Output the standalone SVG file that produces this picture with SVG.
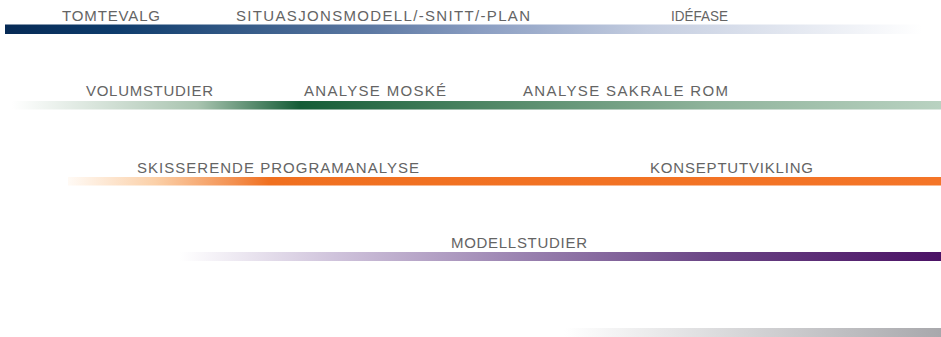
<svg xmlns="http://www.w3.org/2000/svg" width="941" height="337" viewBox="0 0 941 337">
<style>
.t{font-family:"Liberation Sans",Arial,sans-serif;font-size:15px;fill:#646464;}
</style>
<defs>
<linearGradient id="gBlue" x1="0" y1="0" x2="1" y2="0">
<stop offset="0" stop-color="#062a55"/>
<stop offset="0.12" stop-color="#0e3c6c"/>
<stop offset="0.4" stop-color="#5d79a3"/>
<stop offset="0.52" stop-color="#8b9ec2"/>
<stop offset="0.7" stop-color="#c4cde0"/>
<stop offset="1" stop-color="#ffffff"/>
</linearGradient>
<linearGradient id="gGreen" x1="0" y1="0" x2="1" y2="0">
<stop offset="0" stop-color="#ffffff"/>
<stop offset="0.2" stop-color="#a9c4b0"/>
<stop offset="0.31" stop-color="#145c36"/>
<stop offset="0.5" stop-color="#4c8462"/>
<stop offset="0.75" stop-color="#8fb39b"/>
<stop offset="1" stop-color="#b9d2c1"/>
</linearGradient>
<linearGradient id="gOrange" x1="0" y1="0" x2="1" y2="0">
<stop offset="0" stop-color="#fffaf5"/>
<stop offset="0.1" stop-color="#fbd0a8"/>
<stop offset="0.19" stop-color="#f39050"/>
<stop offset="0.23" stop-color="#f07020"/>
<stop offset="1" stop-color="#f47528"/>
</linearGradient>
<linearGradient id="gPurple" x1="0" y1="0" x2="1" y2="0">
<stop offset="0" stop-color="#ffffff"/>
<stop offset="0.2" stop-color="#d0c4dc"/>
<stop offset="0.45" stop-color="#9a82b0"/>
<stop offset="0.7" stop-color="#6a4585"/>
<stop offset="1" stop-color="#4b1265"/>
</linearGradient>
<linearGradient id="gGray" x1="0" y1="0" x2="1" y2="0">
<stop offset="0" stop-color="#ffffff"/>
<stop offset="1" stop-color="#a8a8ac"/>
</linearGradient>
</defs>
<rect width="941" height="337" fill="#ffffff"/>
<g id="bars">
<rect id="bar-blue" x="5" y="24.5" width="917" height="9.5" fill="url(#gBlue)"/>
<rect id="bar-green" x="12" y="101" width="929" height="8.5" fill="url(#gGreen)"/>
<rect id="bar-orange" x="68" y="177" width="873" height="8.5" fill="url(#gOrange)"/>
<rect id="bar-purple" x="180" y="252" width="761" height="9" fill="url(#gPurple)"/>
<rect id="bar-gray" x="564" y="328" width="377" height="9" fill="url(#gGray)"/>
</g>
<g id="labels">
<text id="tomtevalg" class="t" x="62" y="20.5" textLength="98" lengthAdjust="spacing">TOMTEVALG</text>
<text id="situasjon" class="t" x="236" y="20.5" textLength="294" lengthAdjust="spacing">SITUASJONSMODELL/-SNITT/-PLAN</text>
<text id="idefase" class="t" x="671" y="20.5" textLength="57" lengthAdjust="spacingAndGlyphs">IDÉFASE</text>
<text id="volum" class="t" x="86" y="96" textLength="127" lengthAdjust="spacing">VOLUMSTUDIER</text>
<text id="moske" class="t" x="304" y="96" textLength="142" lengthAdjust="spacing">ANALYSE  MOSKÉ</text>
<text id="sakrale" class="t" x="523" y="96" textLength="205" lengthAdjust="spacing">ANALYSE  SAKRALE  ROM</text>
<text id="skisse" class="t" x="137" y="172.5" textLength="282" lengthAdjust="spacing">SKISSERENDE  PROGRAMANALYSE</text>
<text id="konsept" class="t" x="650" y="172.5" textLength="163" lengthAdjust="spacing">KONSEPTUTVIKLING</text>
<text id="modell" class="t" x="451" y="248" textLength="136" lengthAdjust="spacing">MODELLSTUDIER</text>
</g>
</svg>
